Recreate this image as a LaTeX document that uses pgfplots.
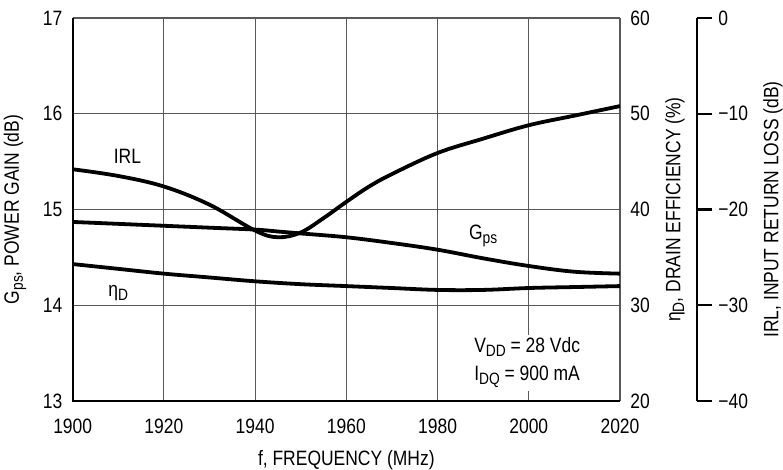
\documentclass[border=0pt]{standalone}
\usepackage{pgfplots}
\pgfplotsset{compat=1.18}
\usepackage{fontspec}
\setmainfont{Liberation Sans}[FakeStretch=0.84]
\newcommand{\sub}[1]{\raisebox{-0.35ex}{\fontsize{8.2}{8}\selectfont #1}}

\pgfplotstableread{
f g
1900 14.87
1910 14.85
1920 14.83
1930 14.81
1940 14.79
1945 14.77
1950 14.75
1960 14.71
1970 14.65
1980 14.58
1990 14.49
2000 14.41
2010 14.35
2020 14.33
}\gpsdata

\pgfplotstableread{
f e
1900 34.3
1910 33.8
1920 33.3
1930 32.9
1940 32.5
1950 32.2
1960 32.0
1970 31.8
1980 31.6
1990 31.6
2000 31.8
2010 31.9
2020 32.0
}\etadata

\pgfplotstableread{
f irl
1900 -15.8
1910 -16.5
1920 -17.6
1930 -19.5
1940 -22.2
1945 -22.9
1950 -22.4
1955 -20.9
1960 -19.2
1965 -17.6
1970 -16.3
1980 -14.1
1990 -12.6
2000 -11.2
2010 -10.2
2020 -9.2
}\irldata

\begin{document}
\fontsize{10.4}{12}\selectfont
\begin{tikzpicture}
\pgfplotsset{
  every axis/.append style={
    scale only axis, width=273.65pt, height=191.5pt,
    xmin=1900, xmax=2020,
    /pgf/number format/assume math mode=true,
    /pgf/number format/1000 sep={},
    ticklabel style={font=\fontsize{10.4}{12}\selectfont},
    label style={font=\fontsize{10.4}{12}\selectfont},
  },
  curve/.style={black, line width=1.9pt, smooth, tension=0.6, no markers},
}
% main axis
\begin{axis}[name=main, at={(0,0)}, anchor=south west,
  ymin=13, ymax=17,
  xtick={1900,1920,...,2020}, ytick={13,14,...,17},
  grid=major, major grid style={black!65, line width=0.55pt},
  axis line style={draw=none}, major tick length=0pt,
  xticklabel style={anchor=center, yshift=-12.85pt},
  yticklabel style={anchor=east, inner sep=0pt, xshift=-5pt},
  every axis y label/.style={at={(rel axis cs:0,0.5)}, xshift=-28.85pt, rotate=90, anchor=center},
  every axis x label/.style={at={(rel axis cs:0.5,0)}, yshift=-29.5pt, anchor=center},
  ylabel={G\sub{ps}, POWER GAIN (dB)},
  xlabel={f, FREQUENCY (MHz)},
  clip=false,
]
\addplot[curve] table[x=f, y=g] {\gpsdata};
\draw[black, line width=1.1pt] (rel axis cs:0,1) -- (rel axis cs:0,0) -- (rel axis cs:1,0);
\node at (axis cs:1912,15.55) {IRL};
\node at (axis cs:1910,14.13) {η\sub{D}};
\node at (axis cs:1990,14.72) {G\sub{ps}};
\node[fill=white, anchor=west, align=left, inner sep=1.5pt, font=\fontsize{10.4}{14}\selectfont] at (axis cs:1987.3,13.40) {V\sub{DD} = 28 Vdc\\I\sub{DQ} = 900 mA};
\end{axis}
% eta axis (right)
\begin{axis}[at={(0,0)}, anchor=south west,
  ymin=20, ymax=60, ytick={20,30,...,60},
  axis x line=none, axis y line*=right, axis line style={draw=none},
  major tick length=0pt,
  yticklabel style={anchor=west, inner sep=0pt, xshift=5pt},
  every axis y label/.style={at={(rel axis cs:1,0.5)}, xshift=27.5pt, rotate=90, anchor=center},
  ylabel={η\sub{D}, DRAIN EFFICIENCY (\%)},
]
\addplot[curve] table[x=f, y=e] {\etadata};
\end{axis}
% IRL curve axis
\begin{axis}[at={(0,0)}, anchor=south west,
  ymin=-40, ymax=0, hide axis]
\addplot[curve] table[x=f, y=irl] {\irldata};
\end{axis}
% IRL scale
\begin{axis}[at={(312.15pt,0)}, anchor=south east, width=10pt,
  xmin=0, xmax=1, ymin=-40, ymax=0, ytick={-40,-30,...,0},
  yticklabels={−40,−30,−20,−10,0},
  axis x line=none, axis y line=right,
  axis line style={line width=1.1pt, -},
  tick align=outside, major tick length=7.5pt,
  major tick style={line width=1.1pt, black},
  yticklabel style={anchor=west, inner sep=0pt, xshift=3pt},
  every axis y label/.style={at={(rel axis cs:1,0.5)}, xshift=38pt, rotate=90, anchor=center},
  ylabel={IRL, INPUT RETURN LOSS (dB)},
]
\end{axis}
\pgfresetboundingbox
\useasboundingbox (-36.35pt,-34.5pt) rectangle (355.15pt,200.5pt);
\end{tikzpicture}
\end{document}
